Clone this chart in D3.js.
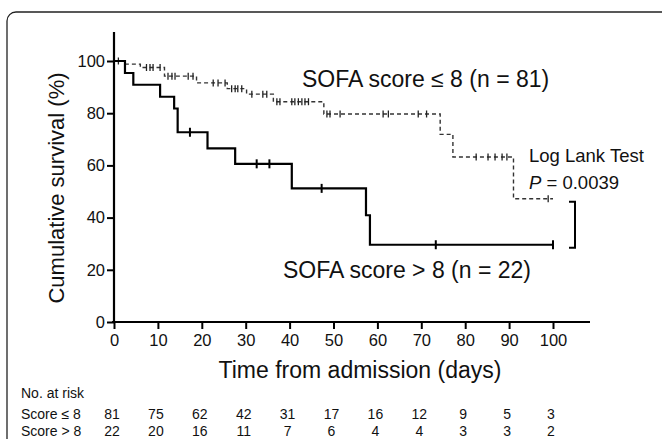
<!DOCTYPE html>
<html><head><meta charset="utf-8">
<script src="https://cdn.jsdelivr.net/npm/d3@7"></script>
<style>
html,body{margin:0;padding:0;background:#fff;}
svg{display:block;}
text{font-family:"Liberation Sans",Arial,Helvetica,sans-serif;fill:#111;}
.risk{font-family:"Liberation Sans",Arial,sans-serif;}
</style></head>
<body>
<svg id="c" width="662" height="439"></svg>
<script>
// ---- data ----
const xTicks = [0,10,20,30,40,50,60,70,80,90,100];
const yTicks = [0,20,40,60,80,100];
// SOFA score <= 8 (n = 81): event times (days) and survival (%) after each step
const lowTimes = [0, 2.5, 6, 11.5, 18.8, 25.8, 30.2, 36.3, 47.8, 74.3, 77.2, 91];
const lowSurv  = [100, 98.8, 97.5, 94.2, 91.6, 89.4, 87.3, 84.4, 79.7, 71.9, 63.2, 47.2];
const lowCensor = [1, 7.4, 8.2, 8.9, 10.5, 12.3, 13.2, 13.9, 16.9, 18.0, 22.6, 23.7, 25.3, 26.8, 27.6, 28.2, 29.1,
  31.4, 33.9, 34.8, 37.1, 37.8, 40.5, 41.2, 42.0, 42.8, 43.5, 44.3, 48.5, 49.2, 51.5, 61.3, 62.5, 69.3, 71.2,
  82.5, 85.2, 86.8, 88.4, 89.5, 98.9];
// SOFA score > 8 (n = 22)
const highTimes = [0, 2.5, 4.4, 10.5, 13.7, 14.5, 21.3, 27.6, 40.5, 57.4, 58.3];
const highSurv  = [100, 95.4, 90.9, 86.3, 81.8, 72.7, 66.5, 60.6, 51.2, 40.9, 29.6];
const highCensor = [17.3, 32.5, 35.4, 47.3, 73.3, 100];
const endTime = 100;
// numbers at risk
const riskLabels = ["Score \u2264 8", "Score > 8"];
const riskLow  = [81, 75, 62, 42, 31, 17, 16, 12, 9, 5, 3];
const riskHigh = [22, 20, 16, 11, 7, 6, 4, 4, 3, 3, 2];

// ---- chart ----
const svg = d3.select("#c");
// rounded frame
svg.append("rect").attr("x",7).attr("y",12).attr("width",700).attr("height",480)
  .attr("rx",9).attr("fill","none").attr("stroke","#222").attr("stroke-width",1.3);

const x = d3.scaleLinear().domain([0,100]).range([114,553]);
const y = d3.scaleLinear().domain([0,100]).range([322,61]);

// axes
const ax = svg.append("g").attr("transform","translate(0,322)")
  .call(d3.axisBottom(x).tickValues(xTicks).tickSize(7).tickPadding(5));
ax.select(".domain").remove();
ax.append("line").attr("x1",112).attr("x2",590).attr("stroke","#000").attr("stroke-width",2.2);
ax.selectAll(".tick line").attr("stroke","#000").attr("stroke-width",2);
ax.selectAll(".tick text").attr("font-size",16.5).attr("fill","#111")
  .attr("font-family","Liberation Sans, Arial, sans-serif");

const ay = svg.append("g").attr("transform","translate(114,0)")
  .call(d3.axisLeft(y).tickValues(yTicks).tickSize(7).tickPadding(2));
ay.select(".domain").remove();
ay.append("line").attr("y1",323).attr("y2",32).attr("stroke","#000").attr("stroke-width",2.2);
ay.selectAll(".tick line").attr("stroke","#000").attr("stroke-width",2);
ay.selectAll(".tick text").attr("font-size",16.5).attr("fill","#111")
  .attr("font-family","Liberation Sans, Arial, sans-serif");

function stepPoints(times, surv){
  const pts = times.map((t,i)=>[t,surv[i]]);
  pts.push([endTime, surv[surv.length-1]]);
  return pts;
}
function survAt(times, surv, t){
  let v = surv[0];
  for(let i=0;i<times.length;i++){ if(times[i] <= t) v = surv[i]; }
  return v;
}
const line = d3.line().x(d=>x(d[0])).y(d=>y(d[1])).curve(d3.curveStepAfter);

// low-score curve (dashed)
svg.append("path").datum(stepPoints(lowTimes,lowSurv)).attr("d",line)
  .attr("fill","none").attr("stroke","#333").attr("stroke-width",1.4).attr("stroke-dasharray","4,3");
svg.append("g").selectAll("line").data(lowCensor).join("line")
  .attr("x1",d=>x(d)).attr("x2",d=>x(d))
  .attr("y1",d=>y(survAt(lowTimes,lowSurv,d))-3.5).attr("y2",d=>y(survAt(lowTimes,lowSurv,d))+3.5)
  .attr("stroke","#222").attr("stroke-width",1.3);

// high-score curve (solid)
svg.append("path").datum(stepPoints(highTimes,highSurv)).attr("d",line)
  .attr("fill","none").attr("stroke","#000").attr("stroke-width",2.2);
svg.append("g").selectAll("line").data(highCensor).join("line")
  .attr("x1",d=>x(d)).attr("x2",d=>x(d))
  .attr("y1",d=>y(survAt(highTimes,highSurv,d))-4.5).attr("y2",d=>y(survAt(highTimes,highSurv,d))+4.5)
  .attr("stroke","#000").attr("stroke-width",2);

// bracket between final values
const bTop = y(lowSurv[lowSurv.length-1]) + 3, bBot = y(highSurv[highSurv.length-1]) + 3;
svg.append("path").attr("d",`M569,${bTop}H575V${bBot}H569`)
  .attr("fill","none").attr("stroke","#000").attr("stroke-width",2);

// annotations
svg.append("text").attr("x",302).attr("y",87).attr("font-size",23).text("SOFA score \u2264 8 (n = 81)");
svg.append("text").attr("x",283).attr("y",278).attr("font-size",23).text("SOFA score > 8 (n = 22)");
svg.append("text").attr("x",529).attr("y",162).attr("font-size",18.5).text("Log Lank Test");
const pt = svg.append("text").attr("x",529).attr("y",189).attr("font-size",18.5);
pt.append("tspan").attr("font-style","italic").text("P");
pt.append("tspan").text(" = 0.0039");

// axis titles
svg.append("text").attr("transform","translate(64,188) rotate(-90)").attr("text-anchor","middle")
  .attr("font-size",22).text("Cumulative survival (%)");
svg.append("text").attr("x",360).attr("y",378).attr("text-anchor","middle")
  .attr("font-size",23).text("Time from admission (days)");

// risk table
svg.append("text").attr("class","risk").attr("x",21).attr("y",398).attr("font-size",14).text("No. at risk");
[riskLow, riskHigh].forEach((row,ri)=>{
  const yy = 419 + ri*17;
  svg.append("text").attr("class","risk").attr("x",21).attr("y",yy).attr("font-size",14).text(riskLabels[ri]);
  svg.append("g").selectAll("text").data(row).join("text").attr("class","risk")
    .attr("x",(d,i)=>x(xTicks[i])-2).attr("y",yy).attr("text-anchor","middle")
    .attr("font-size",14).text(d=>d);
});
</script>
</body></html>
